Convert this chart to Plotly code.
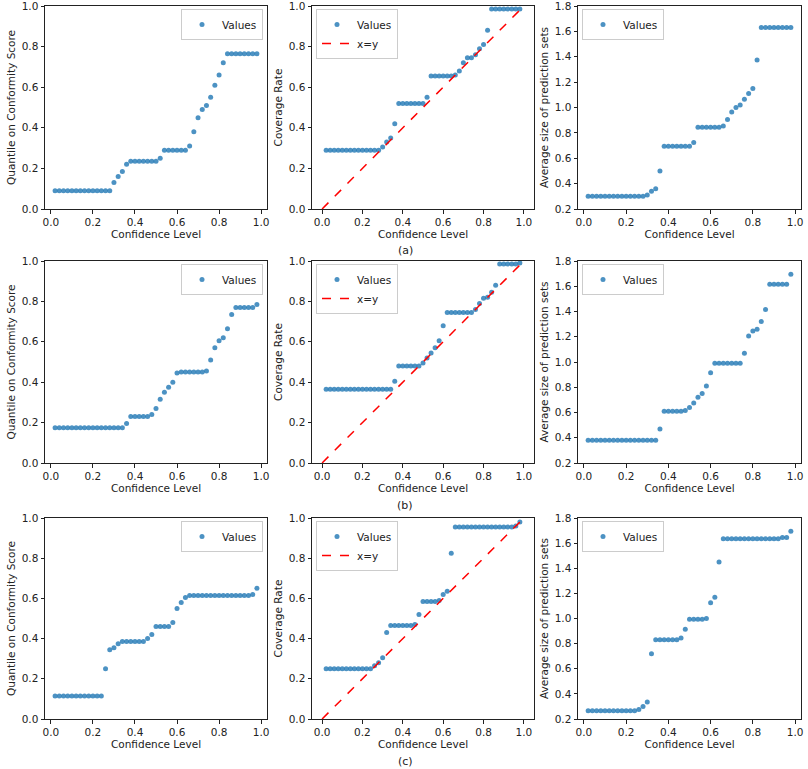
import plotly.graph_objects as go

# ---------------- data ----------------
CONF = [0.02, 0.04, 0.06, 0.08, 0.10, 0.12, 0.14, 0.16, 0.18, 0.20,
        0.22, 0.24, 0.26, 0.28, 0.30, 0.32, 0.34, 0.36, 0.38, 0.40,
        0.42, 0.44, 0.46, 0.48, 0.50, 0.52, 0.54, 0.56, 0.58, 0.60,
        0.62, 0.64, 0.66, 0.68, 0.70, 0.72, 0.74, 0.76, 0.78, 0.80,
        0.82, 0.84, 0.86, 0.88, 0.90, 0.92, 0.94, 0.96, 0.98]

LINE_XY = [0.0, 1.0]

quantile_a = [0.09, 0.09, 0.09, 0.09, 0.09, 0.09, 0.09, 0.09, 0.09, 0.09,
              0.09, 0.09, 0.09, 0.09, 0.13, 0.16, 0.185, 0.22, 0.235, 0.235,
              0.235, 0.235, 0.235, 0.235, 0.235, 0.25, 0.29, 0.29, 0.29, 0.29,
              0.29, 0.29, 0.31, 0.38, 0.45, 0.49, 0.51, 0.55, 0.61, 0.66,
              0.72, 0.765, 0.765, 0.765, 0.765, 0.765, 0.765, 0.765, 0.765]
coverage_a = [0.29, 0.29, 0.29, 0.29, 0.29, 0.29, 0.29, 0.29, 0.29, 0.29,
              0.29, 0.29, 0.29, 0.29, 0.305, 0.33, 0.35, 0.42, 0.52, 0.52,
              0.52, 0.52, 0.52, 0.52, 0.52, 0.55, 0.655, 0.655, 0.655, 0.655,
              0.655, 0.655, 0.66, 0.68, 0.72, 0.745, 0.745, 0.76, 0.79, 0.81,
              0.88, 0.985, 0.985, 0.985, 0.985, 0.985, 0.985, 0.985, 0.985]
size_a = [0.30, 0.30, 0.30, 0.30, 0.30, 0.30, 0.30, 0.30, 0.30, 0.30,
          0.30, 0.30, 0.30, 0.30, 0.31, 0.34, 0.36, 0.50, 0.695, 0.695,
          0.695, 0.695, 0.695, 0.695, 0.695, 0.725, 0.845, 0.845, 0.845, 0.845,
          0.845, 0.845, 0.855, 0.905, 0.965, 1.0, 1.02, 1.065, 1.11, 1.15,
          1.375, 1.63, 1.63, 1.63, 1.63, 1.63, 1.63, 1.63, 1.63]

quantile_b = [0.175, 0.175, 0.175, 0.175, 0.175, 0.175, 0.175, 0.175, 0.175, 0.175,
              0.175, 0.175, 0.175, 0.175, 0.175, 0.175, 0.175, 0.195, 0.23, 0.23,
              0.23, 0.23, 0.23, 0.24, 0.27, 0.315, 0.35, 0.375, 0.40, 0.445,
              0.45, 0.45, 0.45, 0.45, 0.45, 0.45, 0.455, 0.51, 0.57, 0.605,
              0.62, 0.665, 0.735, 0.77, 0.77, 0.77, 0.77, 0.77, 0.785]
coverage_b = [0.365, 0.365, 0.365, 0.365, 0.365, 0.365, 0.365, 0.365, 0.365, 0.365,
              0.365, 0.365, 0.365, 0.365, 0.365, 0.365, 0.365, 0.405, 0.48, 0.48,
              0.48, 0.48, 0.48, 0.48, 0.495, 0.52, 0.545, 0.57, 0.605, 0.68,
              0.745, 0.745, 0.745, 0.745, 0.745, 0.745, 0.745, 0.76, 0.79, 0.815,
              0.82, 0.845, 0.88, 0.985, 0.985, 0.985, 0.985, 0.985, 0.99]
size_b = [0.38, 0.38, 0.38, 0.38, 0.38, 0.38, 0.38, 0.38, 0.38, 0.38,
          0.38, 0.38, 0.38, 0.38, 0.38, 0.38, 0.38, 0.47, 0.61, 0.61,
          0.61, 0.61, 0.61, 0.615, 0.64, 0.675, 0.72, 0.75, 0.81, 0.915,
          0.99, 0.99, 0.99, 0.99, 0.99, 0.99, 0.99, 1.07, 1.205, 1.245,
          1.26, 1.32, 1.415, 1.615, 1.615, 1.615, 1.615, 1.615, 1.695]

quantile_c = [0.115, 0.115, 0.115, 0.115, 0.115, 0.115, 0.115, 0.115, 0.115, 0.115,
              0.115, 0.115, 0.25, 0.345, 0.355, 0.375, 0.385, 0.385, 0.385, 0.385,
              0.385, 0.385, 0.40, 0.42, 0.46, 0.46, 0.46, 0.46, 0.48, 0.55,
              0.58, 0.605, 0.615, 0.615, 0.615, 0.615, 0.615, 0.615, 0.615, 0.615,
              0.615, 0.615, 0.615, 0.615, 0.615, 0.615, 0.615, 0.62, 0.65]
coverage_c = [0.25, 0.25, 0.25, 0.25, 0.25, 0.25, 0.25, 0.25, 0.25, 0.25,
              0.25, 0.25, 0.265, 0.28, 0.305, 0.43, 0.465, 0.465, 0.465, 0.465,
              0.465, 0.465, 0.47, 0.52, 0.585, 0.585, 0.585, 0.585, 0.59, 0.62,
              0.635, 0.825, 0.955, 0.955, 0.955, 0.955, 0.955, 0.955, 0.955, 0.955,
              0.955, 0.955, 0.955, 0.955, 0.955, 0.955, 0.955, 0.96, 0.98]
size_c = [0.265, 0.265, 0.265, 0.265, 0.265, 0.265, 0.265, 0.265, 0.265, 0.265,
          0.265, 0.265, 0.275, 0.30, 0.335, 0.72, 0.83, 0.83, 0.83, 0.83,
          0.83, 0.83, 0.845, 0.915, 0.995, 0.995, 0.995, 0.995, 1.0, 1.125,
          1.17, 1.45, 1.635, 1.635, 1.635, 1.635, 1.635, 1.635, 1.635, 1.635,
          1.635, 1.635, 1.635, 1.635, 1.635, 1.635, 1.645, 1.645, 1.695]

CAPTIONS = ["(a)", "(b)", "(c)"]
X_TITLE = "Confidence Level"
Y_TITLES = ["Quantile on Conformity Score", "Coverage Rate", "Average size of prediction sets"]
X_TICKS = [0.0, 0.2, 0.4, 0.6, 0.8, 1.0]
Y_TICKS_A = [0.0, 0.2, 0.4, 0.6, 0.8, 1.0]
Y_TICKS_B = [0.2, 0.4, 0.6, 0.8, 1.0, 1.2, 1.4, 1.6, 1.8]

ROWS = [
    [quantile_a, coverage_a, size_a],
    [quantile_b, coverage_b, size_b],
    [quantile_c, coverage_c, size_c],
]

# ---------------- layout geometry ----------------
W, H = 808, 769
FONT = "DejaVu Sans"
FS = 10.5
DOT = "rgba(31,119,180,0.8)"
col_px = [(45, 267), (312, 534), (578, 801)]
row_px = [(6, 209), (261, 463), (518, 719)]
caption_gap = 42  # px below each row's bottom spine

fig = go.Figure()
layout = dict(
    width=W, height=H, margin=dict(l=0, r=0, t=0, b=0, autoexpand=False),
    paper_bgcolor="white", plot_bgcolor="white",
    font=dict(family=FONT, size=FS, color="#222"),
    showlegend=True,
)
annotations = []

k = 0
for r in range(3):
    for c in range(3):
        k += 1
        sfx = "" if k == 1 else str(k)
        xa, ya = "x" + sfx, "y" + sfx
        leg = "legend" + sfx
        fig.add_trace(go.Scatter(
            x=CONF, y=ROWS[r][c], mode="markers", name="Values",
            marker=dict(color=DOT, size=5, line=dict(width=0)),
            xaxis=xa, yaxis=ya, legend=leg, hoverinfo="skip"))
        if c == 1:
            fig.add_trace(go.Scatter(
                x=LINE_XY, y=LINE_XY, mode="lines", name="x=y",
                line=dict(color="red", dash="dash", width=1.5),
                xaxis=xa, yaxis=ya, legend=leg, hoverinfo="skip"))
        x0, x1 = col_px[c]
        y0, y1 = row_px[r]
        xrange = [-0.05, 1.05] if c == 1 else [-0.028, 1.028]
        yticks = Y_TICKS_B if c == 2 else Y_TICKS_A
        yrange = [0.2, 1.8] if c == 2 else [0.0, 1.0]
        common = dict(showline=True, linecolor="#222", linewidth=1, mirror=True,
                      ticks="outside", ticklen=3.5, tickwidth=1, tickcolor="#222",
                      showgrid=False, zeroline=False, tickformat=".1f",
                      tickfont=dict(family=FONT, size=FS, color="#222"),
                      ticklabeloverflow="allow",
                      automargin=False)
        layout["xaxis" + sfx] = dict(
            domain=[x0 / W, x1 / W], range=xrange, tickvals=X_TICKS,
            anchor=ya, title=dict(text=X_TITLE, standoff=3,
                                  font=dict(family=FONT, size=FS, color="#222")),
            **common)
        layout["yaxis" + sfx] = dict(
            domain=[1 - y1 / H, 1 - y0 / H], range=yrange, tickvals=yticks,
            anchor=xa, title=dict(text=Y_TITLES[c], standoff=4,
                                  font=dict(family=FONT, size=FS, color="#222")),
            **common)
        if c == 0:
            lx, lxa = (x1 - 4) / W, "right"
        else:
            lx, lxa = (x0 + 4) / W, "left"
        layout[leg] = dict(
            x=lx, xanchor=lxa, y=1 - (y0 + 3) / H, yanchor="top",
            bgcolor="rgba(255,255,255,0.8)", bordercolor="#cccccc", borderwidth=1,
            font=dict(family=FONT, size=FS, color="#222"),
            itemwidth=30, tracegroupgap=0)
        if c == 1:
            annotations.append(dict(
                text=CAPTIONS[r], x=405 / W, xref="paper",
                y=0, yref=ya + " domain", yshift=-caption_gap,
                xanchor="center", yanchor="middle", showarrow=False,
                font=dict(family=FONT, size=FS + 0.5, color="#222")))

layout["annotations"] = annotations
fig.update_layout(**layout)
fig.write_html("out.html", config={"displayModeBar": False},
               post_script="document.body.style.margin='0';")
